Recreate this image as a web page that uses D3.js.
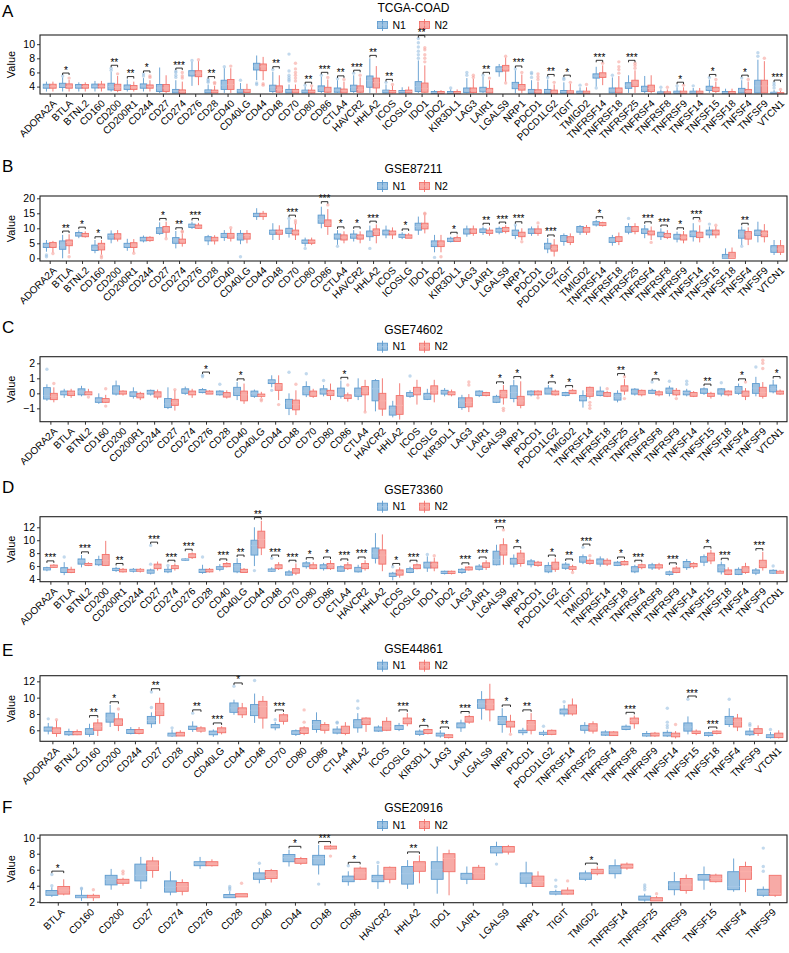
<!DOCTYPE html>
<html><head><meta charset="utf-8">
<script src="https://cdn.jsdelivr.net/npm/d3@7"></script>
<style>body{margin:0;background:#fff}svg{display:block}text{font-family:"Liberation Sans",Arial,sans-serif}</style>
</head><body><svg id="chart" width="789" height="953"></svg>
<script>
// ---------- DATA: each entry = [lowWhisker, Q1, median, Q3, highWhisker, ...outliers] ----------
const groups = ["N1", "N2"];

const titleA = "TCGA-COAD";
const genesA = ["ADORA2A","BTLA","BTNL2","CD160","CD200","CD200R1","CD244","CD27","CD274","CD276","CD28","CD40","CD40LG","CD44","CD48","CD70","CD80","CD86","CTLA4","HAVCR2","HHLA2","ICOS","ICOSLG","IDO1","IDO2","KIR3DL1","LAG3","LAIR1","LGALS9","NRP1","PDCD1","PDCD1LG2","TIGIT","TMIGD2","TNFRSF14","TNFRSF18","TNFRSF25","TNFRSF4","TNFRSF8","TNFRSF9","TNFSF14","TNFSF15","TNFSF18","TNFSF4","TNFSF9","VTCN1"];
const n1A = [[3.3,3.77,4.0,4.33,4.7],[3.3,3.86,4.1,4.47,5.3,5.5],[3.3,3.77,4.0,4.3,4.6],[3.3,3.8,4.0,4.35,4.8],[3.3,3.53,4.0,4.47,6.1,6.3,6.6],[3.3,3.6,3.9,4.23,5.0],[3.3,3.77,4.1,4.38,5.2,5.5,5.8],[3.1,3.3,3.8,4.3,6.7],[3.1,3.1,3.4,3.6,4.9,5.3,5.6,6.0,6.2],[4.1,5.5,5.9,6.25,7.5,7.7],[3.1,3.1,3.35,3.53,4.3,4.6,4.8,5.0],[3.1,3.6,4.2,4.9,6.6,6.8],[3.1,3.1,3.5,3.6,4.5,4.9],[4.9,6.35,6.9,7.3,8.4,4.5,4.3],[3.1,3.3,3.9,4.2,6.1,6.4],[3.1,3.1,3.4,3.6,4.3,4.8,5.0,5.3,5.6,6.2,8.6],[3.05,3.1,3.35,3.5,4.0,4.2],[3.1,3.3,3.77,4.1,5.4,5.6],[3.1,3.2,3.5,3.8,4.9,5.1],[3.1,3.3,3.9,4.2,5.6,5.9],[3.1,3.9,4.85,5.5,8.0],[3.05,3.1,3.35,3.5,4.3,4.6],[3.05,3.1,3.3,3.45,3.9],[3.1,3.3,4.0,4.7,7.7,8.0,8.5,9.0,9.6,10.2,10.8],[3.0,3.05,3.15,3.3,3.5],[3.0,3.05,3.15,3.3,3.6,3.8],[3.05,3.15,3.5,3.8,5.2,5.6,6.0],[3.1,3.25,3.6,3.9,5.4,5.6],[5.4,6.1,6.5,6.8,7.2],[3.05,3.7,4.1,4.6,6.3,6.5],[3.05,3.05,3.35,3.6,4.9,5.3,5.8,6.0],[3.05,3.05,3.4,3.6,5.0,5.3],[3.05,3.05,3.3,3.45,4.6,5.0,5.2],[3.0,3.05,3.2,3.35,3.9,4.2],[4.0,5.2,5.5,5.8,6.8,3.8],[3.05,3.1,3.5,3.8,5.3,5.6],[3.1,3.75,4.2,4.55,5.6],[3.05,3.3,3.7,4.05,5.5],[3.0,3.0,3.1,3.25,3.6,3.9],[3.0,3.05,3.2,3.35,3.9,4.1],[3.0,3.05,3.2,3.35,3.8,4.1],[3.1,3.45,3.75,4.05,5.0,5.3],[3.0,3.0,3.1,3.3,3.7],[3.05,3.1,3.4,3.75,4.9,5.2],[3.05,3.1,4.1,4.9,7.8,8.3,8.8],[3.0,3.0,3.1,3.2,3.5,3.8,4.2,4.5]];
const n2A = [[3.3,3.77,4.0,4.33,4.7],[3.3,3.77,4.0,4.38,4.94,5.2],[3.3,3.77,4.0,4.3,4.6],[3.3,3.8,4.0,4.35,4.8],[3.2,3.44,3.9,4.33,5.5,5.8],[3.3,3.6,3.9,4.15,4.7],[3.3,3.77,4.0,4.23,4.9,5.3,5.5],[3.1,3.3,3.8,4.3,5.6],[3.05,3.05,3.3,3.53,4.7,5.2,5.5,6.0],[4.2,5.4,5.9,6.25,7.6,7.8],[3.1,3.1,3.3,3.5,4.1,4.4,4.6],[3.1,3.6,4.3,5.0,6.6,6.9],[3.1,3.15,3.5,3.6,4.4],[4.9,6.25,6.8,7.2,8.2,4.4,4.2],[3.1,3.2,3.6,4.1,5.6],[3.1,3.1,3.4,3.6,4.3,4.8,5.2,5.6,6.0,6.5,7.3],[3.05,3.1,3.3,3.5,3.9,4.1],[3.1,3.2,3.5,3.9,5.0,5.3],[3.1,3.1,3.4,3.65,4.7,5.0],[3.1,3.2,3.6,4.1,5.3,5.6],[3.1,3.8,4.55,5.2,6.9],[3.05,3.1,3.3,3.45,4.1,4.3],[3.05,3.1,3.3,3.5,4.0],[3.1,3.2,3.7,4.5,7.0,7.5,8.0,8.5,9.2,9.5],[3.0,3.05,3.15,3.3,3.5],[3.0,3.05,3.15,3.3,3.6],[3.05,3.15,3.5,3.8,5.1,5.3,5.6],[3.05,3.1,3.4,3.75,4.9,5.2],[4.7,6.2,6.6,7.0,8.1,8.3,4.5],[3.05,3.5,3.85,4.3,5.7,6.0],[3.05,3.05,3.3,3.55,4.7,5.0,5.4,5.8],[3.0,3.0,3.2,3.5,4.3,4.6],[3.05,3.05,3.25,3.4,4.4,4.6],[3.0,3.05,3.2,3.35,3.9,4.3],[4.2,5.3,5.6,5.95,7.0,7.3],[3.05,3.1,3.5,3.8,5.5,5.9,6.4,6.8,7.5],[3.1,4.0,4.5,4.9,6.3,6.6,7.0,7.3],[3.05,3.3,3.75,4.2,5.6],[3.0,3.0,3.1,3.25,3.6,3.9],[3.0,3.05,3.2,3.35,3.9,4.2],[3.0,3.05,3.2,3.35,3.8],[3.1,3.3,3.6,3.9,4.7,5.0],[3.0,3.0,3.1,3.3,3.7],[3.05,3.05,3.3,3.6,4.7,5.0],[3.05,3.1,4.1,4.9,7.6,8.0],[3.0,3.0,3.05,3.15,3.4,3.6]];
const sigA = ["","*","","","**","**","*","","***","","**","","","","**","","**","***","**","***","**","**","","**","","","","**","","***","","**","*","","***","","***","","","*","","*","","*","","***"];
const ticksA = [4,6,8,10];

const titleB = "GSE87211";
const genesB = ["ADORA2A","BTLA","BTNL2","CD160","CD200","CD200R1","CD244","CD27","CD274","CD276","CD28","CD40","CD40LG","CD44","CD48","CD70","CD80","CD86","CTLA4","HAVCR2","HHLA2","ICOS","ICOSLG","IDO1","IDO2","KIR3DL1","LAG3","LAIR1","LGALS9","NRP1","PDCD1","PDCD1LG2","TIGIT","TMIGD2","TNFRSF14","TNFRSF18","TNFRSF25","TNFRSF4","TNFRSF8","TNFRSF9","TNFSF14","TNFSF15","TNFSF18","TNFSF4","TNFSF9","VTCN1"];
const n1B = [[2.2,3.6,4.4,5.0,6.1,1.1,0.5],[0.0,3.0,4.4,5.8,7.8],[6.7,7.4,8.0,8.6,9.3],[1.7,2.6,3.3,4.4,6.1],[5.0,6.4,7.6,8.1,9.3],[2.5,3.6,4.4,5.0,6.5],[5.3,5.8,6.4,7.0,7.6],[7.8,8.3,9.4,10.2,12.0],[3.3,5.0,6.1,6.9,9.1],[9.8,10.3,10.9,11.4,12.2],[4.4,5.8,6.4,7.2,7.8],[5.8,6.9,7.8,8.3,9.4],[4.7,6.1,7.2,8.3,9.4,0.5],[12.8,13.9,14.4,15.0,16.7],[6.1,8.0,8.9,9.4,11.7],[6.9,8.3,9.4,10.0,12.8,13.3],[3.9,5.0,5.6,6.1,6.9,3.3],[10.0,11.7,13.0,14.4,17.2],[4.5,6.4,7.4,8.1,9.4,4.0],[5.6,6.7,7.6,8.1,9.4],[5.8,7.2,8.1,9.1,10.9,3.3],[6.7,7.8,8.6,9.4,10.9],[6.4,7.0,7.4,8.0,8.7],[7.8,9.4,10.6,11.7,13.9],[2.0,3.9,5.0,5.8,7.8,0.3],[5.3,5.6,6.1,6.7,7.2],[7.2,8.1,9.1,9.8,10.9],[7.8,8.6,9.1,9.8,10.6],[8.0,8.7,9.3,10.0,10.6],[6.4,7.6,8.7,9.4,10.9,11.1],[7.5,8.3,9.1,9.8,10.6],[1.7,3.1,4.2,5.0,6.7],[4.2,5.6,6.4,7.6,8.3],[7.8,8.7,9.4,10.6,11.1],[10.6,11.1,11.7,12.2,12.8],[4.2,5.3,6.1,6.9,7.8],[8.0,8.7,9.8,10.6,11.7,13.3],[6.7,8.3,9.1,9.8,11.1],[6.1,7.2,8.0,8.7,10.0],[5.3,6.4,7.2,8.0,8.9],[5.6,7.2,8.3,9.1,11.7],[6.7,7.8,8.6,9.4,10.6,11.4],[0.0,0.0,0.2,1.3,3.3],[4.4,6.7,8.1,9.4,10.6,4.0],[5.3,7.6,8.6,9.4,12.2],[1.1,2.0,3.1,4.2,6.1]];
const n2B = [[2.0,3.6,4.4,5.3,5.8,1.6],[1.5,4.2,5.3,6.1,8.0,0.5],[6.9,7.2,7.8,8.3,9.0],[1.2,2.8,4.2,5.0,6.1,0.2,0.8],[5.6,6.4,7.4,8.2,9.4],[2.0,3.6,4.4,5.2,6.4,1.7],[5.5,5.9,6.4,7.0,7.4],[6.9,8.7,9.8,10.6,12.2,6.5],[3.9,5.0,5.8,6.4,8.3,8.8,9.0],[9.8,10.0,10.5,11.1,11.8],[4.6,5.8,6.4,7.0,7.7],[5.6,6.7,7.8,8.3,9.8,10.2],[5.0,6.4,7.6,8.3,9.4],[12.8,13.9,14.4,15.0,15.8],[6.1,8.0,8.9,9.4,11.0],[6.1,7.8,8.6,9.4,11.5,11.8,12.5],[4.4,5.0,5.6,6.1,6.9],[7.8,10.6,11.7,12.8,16.4,17.8],[5.0,6.1,7.0,7.8,9.0],[5.0,6.4,7.2,7.8,9.0],[5.0,7.6,8.9,9.8,11.3],[6.4,7.8,8.6,9.1,10.3],[6.7,6.7,7.2,7.8,8.4],[8.3,9.8,10.9,11.7,14.4,14.8,15.0],[2.0,3.9,5.0,5.8,7.8,0.5],[5.6,5.6,6.2,6.9,7.6],[7.5,8.3,9.1,9.8,10.9],[7.5,8.3,8.9,9.4,10.3],[8.3,8.9,9.6,10.3,11.0],[6.1,7.2,8.0,8.7,10.0,5.5],[7.5,8.3,9.1,9.8,11.0,11.8],[0.6,2.4,3.3,4.4,6.4],[4.4,5.3,6.4,7.2,8.3],[7.8,8.7,9.4,10.3,11.1],[10.6,10.9,11.4,11.9,12.2],[4.4,5.6,6.4,7.2,8.6],[8.0,8.9,9.8,10.6,11.7],[6.1,7.8,8.6,9.1,10.6,5.3],[6.4,6.9,7.6,8.3,9.4],[5.0,6.1,7.0,7.8,9.1],[5.3,6.9,7.8,8.7,11.0,12.5],[6.7,7.8,8.6,9.4,10.6,11.0],[0.0,0.0,0.3,2.0,3.6],[4.4,6.4,7.8,8.9,10.3],[5.3,7.2,8.3,9.1,11.4],[1.1,2.0,3.1,4.2,6.1]];
const sigB = ["","**","*","*","","","","*","**","***","","","","","","***","","***","*","*","***","","*","","","*","","**","***","***","","***","","","*","","","***","***","*","***","","","**","",""];
const ticksB = [0,5,10,15,20];

const titleC = "GSE74602";
const genesC = ["ADORA2A","BTLA","BTNL2","CD160","CD200","CD200R1","CD244","CD27","CD274","CD276","CD28","CD40","CD40LG","CD44","CD48","CD70","CD80","CD86","CTLA4","HAVCR2","HHLA2","ICOS","ICOSLG","KIR3DL1","LAG3","LAIR1","LGALS9","NRP1","PDCD1","PDCD1LG2","TMIGD2","TNFRSF14","TNFRSF18","TNFRSF25","TNFRSF4","TNFRSF8","TNFRSF9","TNFSF14","TNFSF15","TNFSF18","TNFSF4","TNFSF9","VTCN1"];
const n1C = [[-0.5,-0.38,-0.15,0.38,0.6,1.6],[-0.3,-0.1,0.0,0.15,0.3],[-0.2,-0.1,0.1,0.3,0.5],[-0.7,-0.6,-0.45,-0.3,0.0],[-0.15,-0.05,0.15,0.5,0.85],[-0.35,-0.2,-0.05,0.1,0.4],[-0.15,-0.05,0.05,0.2,0.25],[-1.05,-0.95,-0.7,-0.35,0.4],[-0.1,0.0,0.15,0.3,0.45],[0.0,0.05,0.15,0.25,0.35,1.1,1.2],[-0.15,-0.1,0.0,0.15,0.2,0.6],[-0.45,-0.15,0.15,0.4,0.75],[-0.3,-0.2,0.0,0.15,0.25],[0.4,0.65,0.8,0.9,1.2,0.2],[-1.45,-1.0,-0.65,-0.4,0.0,1.4],[-0.25,-0.1,0.15,0.45,0.8,1.3],[-0.2,-0.05,0.1,0.3,0.55,0.85],[-0.35,-0.2,-0.05,0.35,0.85],[-0.45,-0.2,0.0,0.35,1.0],[-1.2,-0.5,0.3,0.85,0.95],[-1.6,-1.45,-1.1,-0.85,-0.5],[-0.3,-0.2,-0.05,0.05,0.2,1.15],[-0.45,-0.4,-0.15,0.0,0.3],[-0.2,-0.05,0.1,0.2,0.35],[-1.1,-0.95,-0.5,-0.3,-0.1],[-0.25,-0.15,0.0,0.15,0.2],[-0.65,-0.6,-0.45,-0.2,-0.1],[-0.6,-0.35,0.05,0.5,0.9],[-0.2,-0.1,0.0,0.15,0.2],[-0.05,-0.05,0.15,0.35,0.55],[-0.2,-0.15,-0.05,0.05,0.1],[-0.95,-0.5,-0.35,-0.15,0.2],[-0.2,-0.15,0.0,0.15,0.45],[-0.6,-0.45,-0.2,0.0,0.2],[-0.15,-0.05,0.1,0.28,0.35],[-0.05,0.0,0.1,0.2,0.3,0.75],[-0.2,0.0,0.2,0.35,0.5,0.8],[-0.2,-0.1,0.05,0.15,0.3,0.6,0.8],[-0.1,0.0,0.15,0.3,0.4],[-0.2,-0.05,0.1,0.3,0.35,0.7],[-0.1,0.0,0.2,0.45,0.65],[-0.2,0.0,0.35,0.65,1.1,1.75],[0.0,0.1,0.3,0.55,0.9]];
const n2C = [[-0.6,-0.42,-0.2,0.0,0.4,0.65],[-0.3,-0.15,0.05,0.15,0.3],[-0.1,-0.1,0.0,0.1,0.3,-0.25],[-0.65,-0.6,-0.45,-0.35,-0.1,0.3,-0.85],[-0.15,-0.05,0.05,0.15,0.2],[-0.45,-0.3,-0.15,0.0,0.1],[-0.4,-0.25,-0.1,0.1,0.25],[-1.15,-0.8,-0.6,-0.4,0.2,0.25],[-0.3,-0.1,0.0,0.15,0.3],[-0.05,-0.05,0.05,0.15,0.2],[-0.35,-0.25,-0.1,0.05,0.2],[-0.7,-0.5,-0.1,0.15,0.65],[-0.3,-0.2,-0.15,-0.05,0.1,-0.4,-0.5],[-0.45,0.2,0.55,0.65,1.2,-0.75],[-1.45,-1.1,-0.75,-0.45,0.2,0.6],[-0.3,-0.2,-0.05,0.15,0.3],[-0.45,-0.15,0.05,0.2,0.65],[-0.55,-0.35,-0.2,-0.1,0.05,0.55],[-1.2,-0.1,0.15,0.45,0.9,-1.25],[-1.5,-1.05,-0.5,0.0,1.0],[-1.75,-1.4,-0.8,-0.15,0.67],[-0.75,-0.1,0.05,0.4,0.9],[-0.6,-0.05,0.2,0.5,0.9],[-0.2,-0.1,0.0,0.1,0.25],[-1.25,-0.9,-0.6,-0.3,-0.05,0.55,0.75],[-0.2,-0.15,-0.05,0.05,0.1],[-0.75,-0.3,0.0,0.2,0.55,-1.0,-1.15],[-1.0,-0.8,-0.5,-0.2,0.8],[-0.2,-0.1,0.0,0.15,0.2,-0.3],[-0.15,-0.1,0.05,0.15,0.25],[-0.05,-0.02,0.1,0.2,0.3],[-0.35,-0.2,0.05,0.4,0.45,-0.6,-0.8,-1.0],[-0.25,-0.2,-0.1,0.05,0.15,0.3],[-0.1,0.15,0.35,0.5,0.95,1.1,-0.35],[-0.2,-0.1,0.0,0.2,0.25],[-0.2,-0.1,0.0,0.1,0.2],[-0.2,-0.1,0.1,0.2,0.35,-0.35],[-0.25,-0.2,-0.05,0.05,0.15],[-0.35,-0.2,-0.1,0.0,0.1],[-0.2,-0.1,0.0,0.15,0.2],[-0.45,-0.2,-0.05,0.15,0.35,0.75],[-0.35,-0.2,0.05,0.4,0.75,1.65,2.0,2.2],[-0.1,-0.05,0.05,0.15,0.25]];
const sigC = ["","","","","","","","","","*","","*","","","","","","*","","","","","","","","","*","*","","*","*","","","**","","*","","","**","","*","","*"];
const ticksC = [-1,0,1,2];

const titleD = "GSE73360";
const genesD = ["ADORA2A","BTLA","BTNL2","CD200","CD200R1","CD244","CD27","CD274","CD276","CD28","CD40","CD40LG","CD44","CD48","CD70","CD80","CD86","CTLA4","HAVCR2","HHLA2","ICOS","ICOSLG","IDO1","IDO2","LAG3","LAIR1","LGALS9","NRP1","PDCD1","PDCD1LG2","TIGIT","TMIGD2","TNFRSF14","TNFRSF18","TNFRSF4","TNFRSF8","TNFRSF9","TNFSF14","TNFSF15","TNFSF18","TNFSF4","TNFSF9","VTCN1"];
const n1D = [[5.2,5.4,5.55,5.75,5.9],[4.6,5.0,5.4,5.75,6.6,7.4],[5.8,6.3,6.8,7.1,7.7],[6.0,6.2,6.6,7.0,7.6],[5.1,5.3,5.45,5.65,5.9],[5.0,5.2,5.35,5.5,5.7],[4.7,4.9,5.1,5.4,5.6,6.3,9.2],[4.9,5.1,5.3,5.5,5.9,6.1],[6.8,6.9,7.0,7.1,7.2],[4.8,5.0,5.3,5.5,6.2,7.4],[5.2,5.5,5.7,5.9,6.3],[4.9,5.1,5.9,6.4,7.2],[6.0,7.7,9.2,10.0,12.0,5.3],[5.1,5.2,5.35,5.55,5.8,7.2],[4.5,4.6,4.8,5.1,5.4],[5.6,5.9,6.2,6.5,6.8],[5.3,5.6,5.9,6.2,6.5],[5.1,5.2,5.5,5.9,6.1],[5.0,5.1,5.5,5.8,6.2],[6.4,7.2,8.0,8.8,11.1],[3.8,4.4,4.6,4.9,5.1,5.9],[4.9,5.0,5.3,5.6,5.9],[5.1,5.7,6.2,6.6,7.5,7.8],[4.7,4.85,5.0,5.2,5.3],[4.8,5.0,5.3,5.5,5.7],[5.3,5.5,5.7,6.0,6.3],[6.1,6.2,7.0,8.3,9.3],[5.8,6.3,6.8,7.2,7.8],[5.8,6.2,6.5,6.8,7.1],[4.9,5.1,5.6,6.1,6.6],[5.4,5.65,6.0,6.3,6.6],[6.3,6.6,7.1,7.45,7.8,8.9],[5.9,6.3,6.7,7.1,7.5],[6.0,6.1,6.3,6.6,6.8],[4.9,5.1,5.5,5.9,6.2],[5.4,5.7,5.95,6.2,6.5],[4.5,4.7,4.9,5.1,5.3],[5.4,5.75,6.3,6.7,7.1],[6.0,6.6,7.1,7.45,7.8],[4.7,5.1,5.8,6.2,6.7],[4.6,4.7,5.1,5.5,5.8],[4.6,4.9,5.1,5.4,5.7],[4.8,4.9,5.05,5.35,5.5,6.0]];
const n2D = [[5.7,5.8,5.95,6.15,6.3],[4.9,5.0,5.25,5.5,5.9],[6.0,6.1,6.25,6.4,6.6],[6.0,6.1,6.9,7.8,9.9],[5.0,5.1,5.3,5.5,5.7],[5.0,5.2,5.35,5.5,5.7],[5.3,5.6,5.9,6.3,6.7],[5.3,5.6,5.85,6.05,6.4],[7.1,7.3,7.6,7.9,8.1],[5.0,5.1,5.3,5.5,5.7],[5.8,5.9,6.1,6.4,6.6],[5.0,5.0,5.3,5.5,5.7],[7.7,8.8,10.1,11.4,13.0],[5.4,5.6,5.9,6.2,6.6],[4.6,4.9,5.2,5.6,6.4],[5.5,5.6,5.9,6.2,6.6],[5.4,5.6,6.1,6.4,6.9],[5.4,5.6,5.9,6.2,6.6],[5.3,5.6,6.1,6.4,6.9],[5.2,6.3,7.7,8.5,10.9],[4.2,4.6,5.0,5.4,5.8],[5.5,5.6,5.9,6.2,6.4],[5.2,5.7,6.2,6.6,7.3,7.6],[4.7,4.85,5.0,5.2,5.3],[5.3,5.4,5.6,5.85,6.0],[5.4,5.8,6.2,6.5,6.9],[6.2,7.7,8.3,9.3,10.3,11.6],[5.9,6.4,7.2,8.0,8.5],[5.9,6.1,6.4,6.6,6.8],[5.1,5.5,6.0,6.6,7.2],[5.2,5.5,5.7,5.9,6.2,5.0],[6.2,6.4,6.6,6.9,7.2,7.6],[6.0,6.3,6.6,6.9,7.2],[6.1,6.2,6.5,6.7,6.9],[5.5,5.75,6.0,6.2,6.4],[5.4,5.7,5.95,6.2,6.5],[4.9,5.0,5.4,5.7,6.0],[5.6,5.9,6.1,6.4,6.6],[6.3,6.8,7.45,8.0,8.5],[4.6,4.7,5.0,5.4,5.8],[4.8,5.0,5.4,5.9,6.5],[5.3,5.75,6.3,6.9,8.2],[4.9,4.9,5.05,5.2,5.4]];
const sigD = ["***","","***","","**","","***","***","***","","***","**","**","***","***","*","*","***","***","","*","***","","","***","***","***","*","","*","**","***","","*","***","","***","","*","***","","***",""];
const ticksD = [4,6,8,10,12];

const titleE = "GSE44861";
const genesE = ["ADORA2A","BTNL2","CD160","CD200","CD244","CD27","CD28","CD40","CD40LG","CD44","CD48","CD70","CD80","CD86","CTLA4","HHLA2","ICOS","ICOSLG","KIR3DL1","LAG3","LAIR1","LGALS9","NRP1","PDCD1","PDCD1LG2","TNFRSF14","TNFRSF25","TNFRSF4","TNFRSF8","TNFRSF9","TNFSF14","TNFSF15","TNFSF18","TNFSF4","TNFSF9","VTCN1"];
const n1E = [[5.5,5.9,6.15,6.4,6.9,7.4],[5.3,5.45,5.65,5.85,6.2],[5.2,5.5,5.9,6.2,6.8],[6.4,7.0,7.5,8.1,9.1],[5.5,5.6,5.9,6.1,6.4],[6.3,6.8,7.2,7.7,8.2,8.8,10.7],[5.2,5.3,5.4,5.65,6.1,6.3],[5.8,6.1,6.3,6.5,7.1,8.1],[5.2,5.45,5.65,5.9,6.1],[7.9,8.2,8.75,9.35,9.75,11.4],[6.9,7.8,8.45,9.15,10.5,12.1],[6.0,6.3,6.5,6.7,7.0,7.3],[5.3,5.5,5.7,5.95,6.1],[5.7,6.1,6.7,7.2,8.2],[5.5,5.65,5.9,6.15,6.5,6.9,7.0],[5.7,6.3,6.8,7.3,8.1,8.7,9.6],[5.8,5.9,6.15,6.4,6.6],[5.9,6.1,6.3,6.6,6.9],[5.3,5.5,5.7,5.9,6.1],[5.1,5.3,5.45,5.65,6.0],[5.8,6.3,6.55,6.9,7.3],[7.3,8.7,9.3,9.75,10.8],[5.7,6.7,7.2,7.7,8.7],[5.4,5.7,5.85,6.0,6.3],[5.3,5.5,5.65,5.75,6.0,6.5],[7.7,8.0,8.3,8.6,9.1,9.5],[5.6,6.0,6.3,6.6,7.0],[5.3,5.4,5.6,5.8,6.0],[6.0,6.1,6.3,6.5,6.7],[5.2,5.3,5.45,5.6,5.9],[5.2,5.3,5.5,5.75,6.0,6.3,6.6,7.0,8.7],[5.5,5.9,6.4,6.9,7.7,9.8],[5.2,5.35,5.5,5.7,5.8],[6.4,6.7,7.3,7.7,8.7,9.8],[5.3,5.45,5.65,5.9,6.3,6.6,6.8],[5.0,5.1,5.3,5.45,5.8,6.1]];
const n2E = [[5.2,5.6,6.0,6.3,7.2,7.3],[5.4,5.45,5.6,5.85,6.1],[5.3,6.0,6.45,6.9,7.4],[5.9,6.6,7.0,7.4,8.1,8.6],[5.5,5.6,5.9,6.1,6.4],[6.8,7.8,8.4,9.3,10.0],[5.3,5.3,5.5,5.75,6.0],[5.7,5.9,6.0,6.3,6.5],[5.5,5.7,6.0,6.3,6.5],[7.5,7.9,8.45,8.75,9.35],[6.2,7.5,8.9,9.55,10.2],[6.7,7.1,7.5,7.9,8.1],[5.4,5.6,5.85,6.3,6.5,7.0,8.5],[5.6,6.0,6.3,6.7,7.0],[5.4,5.6,5.9,6.5,7.0],[5.8,6.7,7.2,7.5,7.6],[5.9,6.0,6.5,7.1,7.6],[6.5,6.8,7.2,7.5,8.1],[5.5,5.6,5.85,6.1,6.2],[5.0,5.1,5.25,5.45,5.5],[6.8,7.0,7.4,7.7,7.9],[7.1,8.5,9.2,9.8,11.7],[5.7,6.4,6.8,7.1,7.9,5.5],[5.5,6.0,6.7,7.2,8.1],[5.4,5.5,5.7,6.0,6.1],[7.8,8.0,8.6,9.1,9.9],[5.6,5.9,6.3,6.8,7.1],[5.3,5.35,5.55,5.8,5.9],[6.2,6.8,7.2,7.5,7.8],[5.2,5.3,5.5,5.65,5.8],[5.0,5.2,5.4,5.65,5.9,6.7],[5.4,5.6,5.75,5.9,6.1],[5.5,5.6,5.75,5.9,6.0],[5.9,6.4,7.1,7.5,8.0],[5.3,5.6,5.9,6.2,6.6],[5.0,5.1,5.3,5.65,6.0]];
const sigE = ["","","**","*","","**","","**","***","*","","***","","","","","","***","*","**","***","","*","**","","","","","***","","","***","***","","",""];
const ticksE = [6,8,10,12];

const titleF = "GSE20916";
const genesF = ["BTLA","CD160","CD200","CD27","CD274","CD276","CD28","CD40","CD44","CD48","CD86","HAVCR2","HHLA2","IDO1","LAIR1","LGALS9","NRP1","TIGIT","TMIGD2","TNFRSF14","TNFRSF25","TNFRSF9","TNFSF15","TNFSF4","TNFSF9"];
const n1F = [[2.6,2.8,3.05,3.4,3.8,4.0,5.4],[2.1,2.5,2.6,2.8,3.5,3.6,3.7],[3.5,4.1,4.8,5.3,6.1],[3.6,4.6,5.3,6.7,7.6],[2.8,3.2,3.8,4.6,5.8],[6.1,6.5,6.8,7.0,7.6],[2.5,2.5,2.7,2.9,3.3,3.5,3.7,3.9],[4.3,4.8,5.2,5.6,6.2,6.8],[6.4,7.0,7.5,7.9,8.5],[5.4,6.6,7.4,7.8,9.1,4.2],[4.0,4.5,4.9,5.2,5.8,6.5],[3.6,4.5,4.9,5.3,6.6,6.9],[3.6,4.2,5.5,6.4,7.2],[3.0,4.8,6.0,7.0,8.9],[4.2,4.8,5.2,5.55,6.4],[7.7,8.1,8.5,8.9,9.5,6.7],[3.8,4.3,5.2,5.6,7.0],[2.8,2.95,3.1,3.25,3.5,3.9,4.7],[4.6,4.8,5.2,5.6,5.9],[4.9,5.5,6.0,6.5,7.3],[2.0,2.2,2.5,2.7,3.0,3.5,3.8,4.1],[2.8,3.5,4.1,4.5,5.7],[3.5,4.7,5.1,5.4,6.4],[3.25,3.5,3.9,5.75,7.4],[2.6,2.8,3.25,3.55,3.9,5.8,6.4,8.7]];
const n2F = [[2.8,2.95,3.45,3.9,4.8],[2.1,2.5,2.6,2.8,3.0,3.5],[4.0,4.3,4.6,4.8,5.0,5.5,5.8],[5.0,5.9,6.5,7.1,7.6],[2.8,3.3,3.9,4.4,4.8],[6.4,6.5,6.7,7.0,7.3],[2.6,2.6,2.8,3.0,3.0,4.3],[4.4,4.9,5.3,5.9,6.1],[6.6,6.8,7.1,7.4,7.6],[8.5,8.6,8.75,8.95,9.1,7.7],[4.7,4.8,5.6,6.2,6.4],[4.3,4.8,5.8,6.3,6.4],[4.3,5.8,6.6,7.0,7.8],[2.8,5.75,7.4,8.0,8.5],[4.8,4.8,5.55,6.3,6.6],[7.9,8.2,8.6,8.9,9.1],[3.9,3.9,4.5,5.2,5.8],[2.9,2.95,3.2,3.45,3.8,4.6],[5.3,5.5,5.9,6.05,6.4],[6.0,6.2,6.4,6.7,6.9],[2.1,2.1,2.3,2.5,2.7,3.0],[3.0,3.4,4.1,4.9,5.4],[4.4,4.5,4.9,5.33,5.5],[3.2,4.8,5.75,6.4,7.0],[2.6,2.8,3.0,5.3,5.3]];
const sigF = ["*","","","","","","","","*","***","*","","**","","","","","","*","","","","","",""];
const ticksF = [2,4,6,8,10];

// ---------- LAYOUT ----------
const W = 789, L = 40, R = 787;
const COLORS = {N1: {stroke: "#5e9bcf", median: "#a6c7e6", point: "#8fb9df"}, N2: {stroke: "#f2716a", median: "#fab0aa", point: "#f69a94"}};
const panels = [
  {letter: "A", title: titleA, genes: genesA, n1: n1A, n2: n2A, sig: sigA, ticks: ticksA, top: 35, bottom: 94, domain: [2.95, 11.3], letterY: 17},
  {letter: "B", title: titleB, genes: genesB, n1: n1B, n2: n2B, sig: sigB, ticks: ticksB, top: 196, bottom: 261, domain: [-0.9, 20.77], letterY: 172},
  {letter: "C", title: titleC, genes: genesC, n1: n1C, n2: n2C, sig: sigC, ticks: ticksC, top: 356.7, bottom: 421.7, domain: [-1.89, 2.44], letterY: 333},
  {letter: "D", title: titleD, genes: genesD, n1: n1D, n2: n2D, sig: sigD, ticks: ticksD, top: 516.7, bottom: 581.7, domain: [3.58, 13.64], letterY: 493},
  {letter: "E", title: titleE, genes: genesE, n1: n1E, n2: n2E, sig: sigE, ticks: ticksE, top: 675.7, bottom: 741.3, domain: [4.65, 12.69], letterY: 656},
  {letter: "F", title: titleF, genes: genesF, n1: n1F, n2: n2F, sig: sigF, ticks: ticksF, top: 835, bottom: 902.7, domain: [1.875, 10.34], letterY: 813}
];

const svg = d3.select("#chart");
svg.append("rect").attr("width", W).attr("height", 953).attr("fill", "#fff");

panels.forEach(p => {
  const g = svg.append("g");
  const x = d3.scalePoint().domain(p.genes).range([L, R]).padding(0.6);
  const step = x.step();
  const y = d3.scaleLinear().domain(p.domain).range([p.bottom, p.top]);
  const cx = (L + R) / 2;

  // letter, title
  g.append("text").attr("x", 2).attr("y", p.letterY).attr("font-size", 17).attr("fill", "#000").text(p.letter);
  g.append("text").attr("x", cx).attr("y", p.top - 23).attr("text-anchor", "middle").attr("font-size", 12).attr("fill", "#000").text(p.title);

  // legend
  const ly = p.top - 10;
  const lg = g.append("g").attr("transform", `translate(${cx - 36},${ly})`);
  groups.forEach((grp, i) => {
    const c = COLORS[grp];
    const kx = i * 42;
    const k = lg.append("g").attr("transform", `translate(${kx},0)`);
    k.append("line").attr("x1", 5).attr("x2", 5).attr("y1", -6).attr("y2", 6).attr("stroke", c.stroke).attr("stroke-width", 0.9);
    k.append("rect").attr("x", 0).attr("y", -3.5).attr("width", 10).attr("height", 7).attr("fill", c.stroke).attr("fill-opacity", 0.6).attr("stroke", c.stroke).attr("stroke-width", 0.9);
    k.append("line").attr("x1", 0).attr("x2", 10).attr("y1", 0).attr("y2", 0).attr("stroke", c.median).attr("stroke-width", 0.9);
    k.append("text").attr("x", 15).attr("y", 0).attr("dy", "0.35em").attr("font-size", 10.5).attr("fill", "#000").text(grp);
  });

  // y axis
  const ya = g.append("g").attr("transform", `translate(${L},0)`)
    .call(d3.axisLeft(y).tickValues(p.ticks).tickSize(3).tickPadding(2).tickFormat(d3.format("d")));
  ya.select(".domain").remove();
  ya.selectAll("line").attr("stroke", "#333");
  ya.selectAll("text").attr("font-size", 10.5).attr("fill", "#000").style("font-family", '"Liberation Sans", Arial, sans-serif');
  g.append("text").attr("transform", `translate(15,${(p.top + p.bottom) / 2}) rotate(-90)`)
    .attr("text-anchor", "middle").attr("font-size", 11).attr("fill", "#000").text("Value");

  // x axis
  const xa = g.append("g").attr("transform", `translate(0,${p.bottom})`)
    .call(d3.axisBottom(x).tickSize(3).tickPadding(2));
  xa.select(".domain").remove();
  xa.selectAll("line").attr("stroke", "#333");
  xa.selectAll("text").attr("x", 0).attr("y", 0).attr("dy", "0.71em")
    .attr("transform", "translate(2,5) rotate(-45)").style("text-anchor", "end")
    .attr("font-size", 10).attr("fill", "#000").style("font-family", '"Liberation Sans", Arial, sans-serif');

  // boxes
  const bw = 0.4 * step;
  [["N1", p.n1, -0.2], ["N2", p.n2, 0.2]].forEach(([grp, data, off]) => {
    const c = COLORS[grp];
    const gg = g.append("g");
    p.genes.forEach((gene, i) => {
      const d = data[i];
      const xc = x(gene) + off * step;
      const [lo, q1, med, q3, hi] = d;
      const outs = d.slice(5);
      gg.append("line").attr("x1", xc).attr("x2", xc).attr("y1", y(q3)).attr("y2", y(hi)).attr("stroke", c.stroke).attr("stroke-width", 0.9);
      gg.append("line").attr("x1", xc).attr("x2", xc).attr("y1", y(q1)).attr("y2", y(lo)).attr("stroke", c.stroke).attr("stroke-width", 0.9);
      gg.append("rect").attr("x", xc - bw / 2).attr("y", y(q3)).attr("width", bw).attr("height", Math.max(0.8, y(q1) - y(q3)))
        .attr("fill", c.stroke).attr("fill-opacity", 0.6).attr("stroke", c.stroke).attr("stroke-width", 0.9);
      gg.append("line").attr("x1", xc - bw / 2).attr("x2", xc + bw / 2).attr("y1", y(med)).attr("y2", y(med)).attr("stroke", c.median).attr("stroke-width", 1);
      outs.forEach(o => {
        gg.append("circle").attr("cx", xc).attr("cy", y(o)).attr("r", 1.7).attr("fill", c.point).attr("fill-opacity", 0.55);
      });
    });
  });

  // significance brackets
  const span = p.domain[1] - p.domain[0];
  p.genes.forEach((gene, i) => {
    const s = p.sig[i];
    if (!s) return;
    const mx = Math.max(...p.n1[i], ...p.n2[i]);
    const by = y(mx + 0.05 * span);
    const x1 = x(gene) - 0.2 * step, x2 = x(gene) + 0.2 * step;
    g.append("path").attr("d", `M${x1},${by + 2}V${by}H${x2}V${by + 2}`).attr("fill", "none").attr("stroke", "#000").attr("stroke-width", 0.8);
    g.append("text").attr("x", x(gene)).attr("y", by + 0.5).attr("text-anchor", "middle").attr("font-size", 10).attr("fill", "#000").text(s);
  });

  // panel border
  g.append("rect").attr("x", L).attr("y", p.top).attr("width", R - L).attr("height", p.bottom - p.top)
    .attr("fill", "none").attr("stroke", "#222").attr("stroke-width", 1.1);
});
</script>
</body></html>
